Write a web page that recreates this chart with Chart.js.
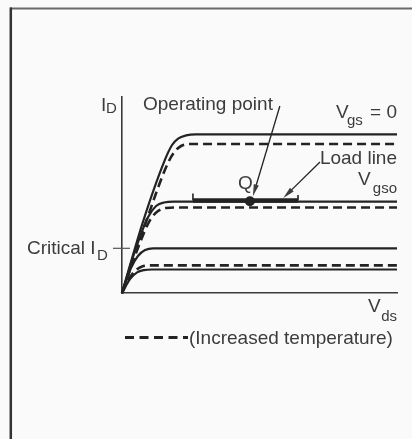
<!DOCTYPE html>
<html>
<head>
<meta charset="utf-8">
<script src="https://cdn.jsdelivr.net/npm/chart.js@4/dist/chart.umd.min.js"></script>
<style>
  html, body { margin: 0; padding: 0; background: #fafafa; }
  canvas { display: block; }
</style>
</head>
<body>
<canvas id="c" width="412" height="439"></canvas>
<script>
// JFET drain characteristics: I_D against V_ds for several gate voltages.
// Solid curves at room temperature, dashed curves at increased temperature.

const vdsRange = [0, 10];
const idRange = [0, 10];

// V_gs = 0
const vgs0Vds = [0, 0.76, 1.56, 1.82, 2.04, 2.33, 2.69, 10];
const vgs0Id  = [0, 3.62, 6.79, 7.55, 7.88, 8.04, 8.09, 8.09];
const vgs0HotVds = [0, 0.87, 1.67, 1.93, 2.15, 2.44, 10];
const vgs0HotId  = [0, 3.62, 6.63, 7.24, 7.50, 7.60, 7.60];

// V_gso (bias curve through Q)
const vgsoVds = [0, 0.51, 0.95, 1.24, 1.53, 1.89, 10];
const vgsoId  = [0, 2.30, 3.88, 4.44, 4.62, 4.66, 4.66];
const vgsoHotVds = [0, 0.58, 1.02, 1.31, 1.60, 1.96, 10];
const vgsoHotId  = [0, 2.30, 3.72, 4.18, 4.34, 4.36, 4.36];

// Curve at the critical drain current (zero temperature coefficient)
const critVds = [0, 0.33, 0.58, 0.84, 1.13, 10];
const critId  = [0, 1.28, 1.89, 2.19, 2.28, 2.28];

// Lowest gate voltage
const lowVds = [0, 0.29, 0.55, 0.80, 1.09, 10];
const lowId  = [0, 0.71, 1.05, 1.17, 1.20, 1.20];
const lowHotVds = [0, 0.25, 0.51, 0.73, 1.02, 10];
const lowHotId  = [0, 0.71, 1.17, 1.35, 1.41, 1.41];

// Load line segment, its end marks and the operating point Q
const loadVds = [2.58, 6.40];
const loadId  = [4.72, 4.72];
const loadMarkTop = [5.08, 5.00];
const qVds = [4.65];
const qId  = [4.68];

const INK = '#232323';
const TEXT = '#3c3c3c';
const FONT = '"Liberation Sans", Arial, sans-serif';

function pts(xs, ys) { return xs.map((x, i) => ({ x: x, y: ys[i] })); }

function curve(xs, ys, dashed) {
  return {
    data: pts(xs, ys),
    showLine: true,
    borderColor: INK,
    borderWidth: dashed ? 2.6 : 2.2,
    borderDash: dashed ? [9, 5] : [],
    pointRadius: 0,
    cubicInterpolationMode: 'monotone',
    clip: false
  };
}

const datasets = [
  curve(vgs0Vds, vgs0Id, false),
  curve(vgs0HotVds, vgs0HotId, true),
  curve(vgsoVds, vgsoId, false),
  curve(vgsoHotVds, vgsoHotId, true),
  curve(critVds, critId, false),
  curve(lowVds, lowId, false),
  curve(lowHotVds, lowHotId, true),
  {
    data: pts(loadVds, loadId),
    showLine: true, borderColor: INK, borderWidth: 4.4, pointRadius: 0, clip: false
  },
  {
    data: [{ x: loadVds[0], y: loadId[0] }, { x: loadVds[0], y: loadMarkTop[0] }],
    showLine: true, borderColor: INK, borderWidth: 1.6, pointRadius: 0, clip: false
  },
  {
    data: [{ x: loadVds[1], y: loadId[1] }, { x: loadVds[1], y: loadMarkTop[1] }],
    showLine: true, borderColor: INK, borderWidth: 1.6, pointRadius: 0, clip: false
  },
  {
    data: pts(qVds, qId),
    showLine: false, pointRadius: 5, pointBackgroundColor: INK, pointBorderWidth: 0, clip: false
  }
];

function arrow(ctx, x0, y0, x1, y1) {
  const a = Math.atan2(y1 - y0, x1 - x0);
  const len = 12, half = 2.6;
  const c = Math.cos(a), s = Math.sin(a);
  ctx.beginPath();
  ctx.moveTo(x0, y0);
  ctx.lineTo(x1 - c * len * 0.7, y1 - s * len * 0.7);
  ctx.lineWidth = 1.3;
  ctx.stroke();
  ctx.beginPath();
  ctx.moveTo(x1, y1);
  ctx.lineTo(x1 - c * len - s * half, y1 - s * len + c * half);
  ctx.lineTo(x1 - c * len + s * half, y1 - s * len - c * half);
  ctx.closePath();
  ctx.fill();
}

function text(ctx, str, x, y, size, align) {
  ctx.font = size + 'px ' + FONT;
  ctx.textAlign = align || 'left';
  ctx.textBaseline = 'alphabetic';
  ctx.fillText(str, x, y);
}

const backdrop = {
  id: 'backdrop',
  beforeDraw(chart) {
    const ctx = chart.ctx;
    ctx.save();
    ctx.fillStyle = '#fafafa';
    ctx.fillRect(0, 0, chart.width, chart.height);
    // panel frame (left and top edges)
    ctx.strokeStyle = '#6a6a6a';
    ctx.lineWidth = 2;
    ctx.beginPath();
    ctx.moveTo(10, 8.5);
    ctx.lineTo(chart.width, 8.5);
    ctx.stroke();
    ctx.strokeStyle = '#333';
    ctx.lineWidth = 2.5;
    ctx.beginPath();
    ctx.moveTo(10.8, 7.5);
    ctx.lineTo(10.8, chart.height);
    ctx.stroke();
    ctx.restore();
  }
};

const annotations = {
  id: 'annotations',
  afterDatasetsDraw(chart) {
    const ctx = chart.ctx;
    const sx = chart.scales.x, sy = chart.scales.y;
    const X = v => sx.getPixelForValue(v);
    const Y = v => sy.getPixelForValue(v);
    const area = chart.chartArea;
    ctx.save();
    ctx.fillStyle = TEXT;
    ctx.strokeStyle = INK;

    // axis labels
    text(ctx, 'I', area.left - 21, area.top + 13.5, 19);
    text(ctx, 'D', area.left - 16, area.top + 16, 15);
    text(ctx, 'V', area.right - 29, area.bottom + 19, 19);
    text(ctx, 'ds', area.right, area.bottom + 28, 15, 'right');

    // critical drain current marker on the I_D axis
    const yc = Y(critId[critId.length - 1]);
    ctx.lineWidth = 1.2;
    ctx.strokeStyle = '#555';
    ctx.beginPath();
    ctx.moveTo(area.left - 9, yc);
    ctx.lineTo(area.left + 8, yc);
    ctx.stroke();
    ctx.strokeStyle = INK;
    text(ctx, 'Critical I', area.left - 95, yc + 6, 19);
    text(ctx, 'D', area.left - 25, yc + 12, 15);

    // curve labels
    const y0 = Y(vgs0Id[vgs0Id.length - 1]);
    text(ctx, 'V', area.right - 61, y0 - 16.5, 19);
    text(ctx, 'gs', area.right - 50, y0 - 9.5, 15);
    text(ctx, '= 0', area.right, y0 - 16.5, 19, 'right');
    const yo = Y(vgsoId[vgsoId.length - 1]);
    text(ctx, 'V', area.right - 39, yo - 16.5, 19);
    text(ctx, 'gso', area.right, yo - 9, 15, 'right');

    // operating point and load line callouts
    const qx = X(qVds[0]), qy = Y(qId[0]);
    text(ctx, 'Q', qx - 12, qy - 12.5, 19);
    text(ctx, 'Operating point', area.left + 21, area.top + 12.5, 19);
    arrow(ctx, qx + 30, area.top + 9, qx + 3, qy - 5);
    text(ctx, 'Load line', area.right, y0 + 29.5, 19, 'right');
    const lx = X(loadVds[0] + (loadVds[1] - loadVds[0]) * 0.86);
    arrow(ctx, area.right - 77, y0 + 27.5, lx, Y(loadId[0]) - 2.5);

    // legend for dashed curves
    const ly = area.bottom + 44.5;
    ctx.lineWidth = 3;
    ctx.setLineDash([9, 5.5]);
    ctx.beginPath();
    ctx.moveTo(area.left + 3, ly);
    ctx.lineTo(area.left + 66, ly);
    ctx.stroke();
    ctx.setLineDash([]);
    text(ctx, '(Increased temperature)', area.left + 67, ly + 6, 19);
    ctx.restore();
  }
};

new Chart(document.getElementById('c'), {
  type: 'scatter',
  data: { datasets: datasets },
  options: {
    responsive: false,
    animation: false,
    events: [],
    layout: { padding: { left: 122, top: 97, right: 15, bottom: 146 } },
    plugins: { legend: { display: false }, tooltip: { enabled: false } },
    scales: {
      x: {
        type: 'linear', min: vdsRange[0], max: vdsRange[1],
        grid: { display: false, drawTicks: false, tickLength: 0 },
        ticks: { display: false },
        border: { display: true, color: '#3a3a3a', width: 1.6 }
      },
      y: {
        type: 'linear', min: idRange[0], max: idRange[1],
        grid: { display: false, drawTicks: false, tickLength: 0 },
        ticks: { display: false },
        border: { display: true, color: '#3a3a3a', width: 1.6 }
      }
    }
  },
  plugins: [backdrop, annotations]
});
</script>
</body>
</html>
